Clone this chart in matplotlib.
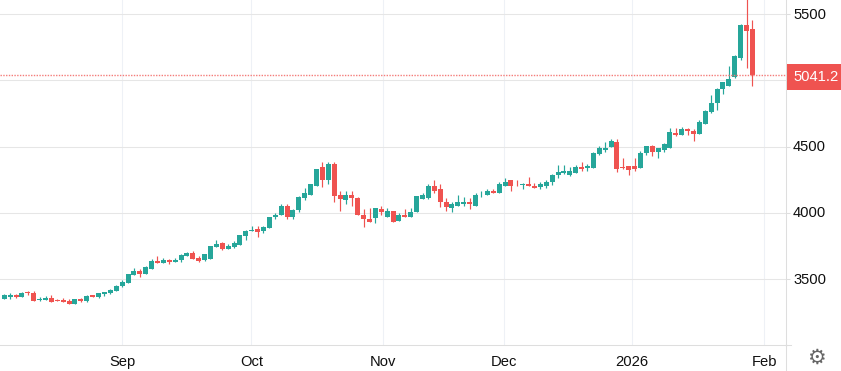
import matplotlib
matplotlib.use("Agg")
import matplotlib.pyplot as plt
from matplotlib.lines import Line2D
from matplotlib.patches import Rectangle
from matplotlib.transforms import ScaledTranslation

# ---------------------------------------------------------
# DATA
# ---------------------------------------------------------

opens = [3352, 3367, 3382, 3367, 3404, 3397, 3344, 3344, 3359, 3344, 3344, 3337, 3314, 3352, 3337, 3382,
         3367, 3389, 3397, 3412, 3450, 3472, 3533, 3563, 3540, 3578, 3638, 3623, 3646, 3631, 3646, 3676,
         3699, 3661, 3646, 3653, 3744, 3774, 3729, 3744, 3759, 3827, 3859, 3874, 3859, 3882, 3965, 3980,
         4048, 3972, 4018, 4108, 4138, 4206, 4342, 4251, 4365, 4131, 4093, 4131, 4108, 3987, 3950, 3957,
         4025, 3965, 4010, 3935, 3987, 3965, 4003, 4101, 4108, 4199, 4176, 4085, 4033, 4048, 4070, 4078,
         4055, 4131, 4131, 4168, 4153, 4206, 4244, 4206, 4208, 4216, 4201, 4193, 4201, 4231, 4284, 4299,
         4284, 4299, 4344, 4337, 4337, 4442, 4472, 4495, 4533, 4344, 4352, 4352, 4337, 4450, 4503, 4457,
         4472, 4487, 4601, 4585, 4631, 4616, 4593, 4668, 4762, 4830, 4935, 4958, 5026, 5169, 5418, 5388]
highs = [3389, 3397, 3389, 3404, 3412, 3412, 3367, 3374, 3382, 3352, 3359, 3352, 3352, 3359, 3382, 3382,
         3397, 3404, 3427, 3457, 3495, 3540, 3585, 3578, 3601, 3653, 3676, 3661, 3653, 3661, 3691, 3706,
         3714, 3676, 3691, 3751, 3797, 3782, 3766, 3789, 3834, 3872, 3897, 3904, 3897, 3965, 3995, 4063,
         4063, 4025, 4123, 4184, 4221, 4334, 4387, 4387, 4380, 4168, 4161, 4161, 4116, 4025, 4033, 4033,
         4048, 4033, 4010, 3995, 4025, 4033, 4123, 4153, 4214, 4251, 4214, 4108, 4085, 4138, 4116, 4108,
         4146, 4168, 4176, 4176, 4229, 4266, 4244, 4244, 4223, 4269, 4223, 4231, 4246, 4291, 4359, 4359,
         4344, 4359, 4382, 4367, 4457, 4503, 4533, 4555, 4555, 4412, 4352, 4412, 4465, 4503, 4510, 4487,
         4525, 4638, 4638, 4646, 4638, 4631, 4699, 4774, 4890, 4943, 4988, 5109, 5192, 5425, 5620, 5456]
lows = [3352, 3352, 3359, 3367, 3382, 3337, 3337, 3344, 3329, 3337, 3329, 3314, 3314, 3329, 3329, 3367,
        3359, 3374, 3389, 3412, 3442, 3472, 3533, 3518, 3540, 3578, 3623, 3623, 3616, 3631, 3631, 3676,
        3653, 3631, 3638, 3653, 3744, 3721, 3729, 3736, 3759, 3797, 3859, 3821, 3844, 3882, 3950, 3980,
        3950, 3950, 4003, 4093, 4138, 4206, 4191, 4221, 4085, 4010, 4070, 4048, 3980, 3889, 3927, 3920,
        3980, 3965, 3927, 3935, 3972, 3965, 4003, 4101, 4101, 4153, 4040, 4010, 4003, 4048, 4048, 4025,
        4048, 4116, 4131, 4146, 4146, 4199, 4168, 4199, 4178, 4201, 4186, 4178, 4186, 4208, 4261, 4291,
        4276, 4299, 4314, 4314, 4337, 4435, 4457, 4495, 4306, 4329, 4284, 4314, 4337, 4435, 4427, 4412,
        4457, 4487, 4578, 4585, 4585, 4540, 4593, 4668, 4754, 4777, 4898, 4958, 5018, 5154, 5094, 4958]
closes = [3382, 3382, 3367, 3397, 3397, 3337, 3352, 3359, 3329, 3337, 3329, 3314, 3352, 3337, 3374, 3367,
          3397, 3404, 3420, 3450, 3480, 3540, 3563, 3540, 3593, 3638, 3623, 3646, 3631, 3646, 3684, 3699,
          3653, 3638, 3691, 3751, 3766, 3729, 3751, 3774, 3834, 3865, 3867, 3852, 3889, 3965, 3987, 4048,
          3972, 4018, 4116, 4146, 4214, 4334, 4244, 4365, 4123, 4101, 4131, 4108, 3980, 3950, 3927, 4033,
          4003, 4010, 3927, 3987, 3972, 4003, 4123, 4131, 4199, 4168, 4078, 4040, 4070, 4085, 4085, 4063,
          4138, 4138, 4168, 4153, 4221, 4236, 4206, 4199, 4216, 4201, 4186, 4216, 4231, 4284, 4306, 4314,
          4314, 4344, 4329, 4352, 4450, 4487, 4487, 4540, 4329, 4337, 4321, 4329, 4450, 4503, 4457, 4487,
          4518, 4608, 4585, 4631, 4616, 4593, 4684, 4766, 4830, 4935, 4988, 5011, 5184, 5418, 5373, 5041.2]

price_ticks = [3500, 4000, 4500, 5000, 5500]
price_labels = ["3500", "4000", "4500", "", "5500"]

# month gridlines, in candle positions
month_pos = [20.03, 41.94, 64.35, 84.9, 106.5, 129.0]
month_labels = ["Sep", "Oct", "Nov", "Dec", "2026", "Feb"]

last_price = 5041.2

# ---------------------------------------------------------
# STYLE
# ---------------------------------------------------------

UP = "#26a69a"
DOWN = "#ef5350"
GRID_H = "#e6e6e6"
GRID_V = "#eef1f6"
AXIS = "#dedede"
TEXT = "#0f0f0f"

W, H = 841, 371
plt.rcParams["font.family"] = ["Liberation Sans", "DejaVu Sans"]

# ---------------------------------------------------------
# PLOT
# ---------------------------------------------------------

fig = plt.figure(figsize=(W / 100, H / 100), dpi=100)
ax = fig.add_axes([0, 26 / H, 786 / W, 345 / H])

ax.set_xlim(-0.73, 132.7)
ax.set_ylim(3002, 5606.3)

ax.set_yticks(price_ticks, price_labels)
ax.set_xticks(month_pos, month_labels)
ax.yaxis.tick_right()
ax.grid(True, axis="y", color=GRID_H, lw=0.75)
ax.grid(True, axis="x", color=GRID_V, lw=0.75)
ax.set_axisbelow(True)
ax.tick_params(axis="y", length=2.9, width=0.75, color=AXIS, pad=2.2, labelsize=10.6, labelcolor=TEXT)
ax.tick_params(axis="x", length=0, pad=7, labelsize=10.6, labelcolor=TEXT)

# labels sit a pixel higher than the tick
nudge = ScaledTranslation(0, 1 / 100, fig.dpi_scale_trans)
for lab in ax.get_yticklabels():
    lab.set_transform(lab.get_transform() + nudge)

for name in ["top", "left"]:
    ax.spines[name].set_visible(False)
for name in ["right", "bottom"]:
    ax.spines[name].set_color(AXIS)
    ax.spines[name].set_linewidth(0.75)

# candles
for i in range(len(opens)):
    o, h, l, c = opens[i], highs[i], lows[i], closes[i]
    col = UP if c >= o else DOWN
    ax.vlines(i, l, h, color=col, lw=0.85, zorder=3)
    ax.bar(i, max(abs(c - o), 6), bottom=min(o, c), width=0.85, color=col, lw=0, zorder=4)

# last price line
ax.axhline(last_price, color="#f47c7a", lw=1.0, ls=(0, (1, 1)), zorder=5)

# axis line and tick running past the plot
fig.add_artist(Line2D([786 / W, 786 / W], [0, 26 / H], color=AXIS, lw=0.75))
fig.add_artist(Line2D([786 / W, 791 / W], [26 / H, 26 / H], color=AXIS, lw=0.75))

# last price label
fig.add_artist(Rectangle((787 / W, (H - 89.7) / H), 54 / W, 25.7 / H, color=DOWN, lw=0, zorder=5))
fig.text(793 / W, (H - 77) / H, f"{last_price:.1f}", color="white", fontsize=10.6, va="center", ha="left", zorder=6)

# settings gear
fig.text(816.5 / W, (H - 358) / H, "\u2699", family="DejaVu Sans", color="#666666", fontsize=15, va="center", ha="center")

fig.savefig("out.png", dpi=100)
